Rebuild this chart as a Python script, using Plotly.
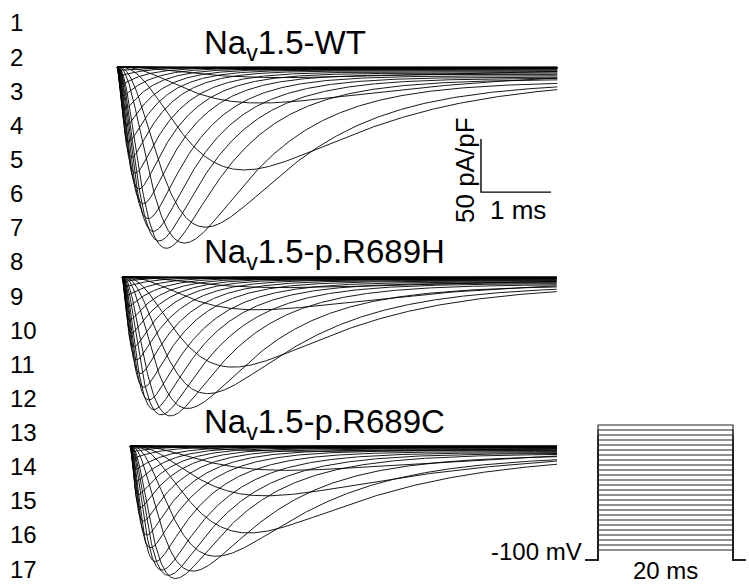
import numpy as np
import plotly.graph_objects as go

# ---------------- data ----------------
voltages_mV = [-90, -85, -80, -75, -70, -65, -60, -55, -50, -45, -40, -35, -30,
               -25, -20, -15, -10, -5, 0, 5, 10, 15, 20, 25, 30, 35]

# peak current density (pA/pF, magnitude), time to peak (ms), inactivation tau (ms)
wt_amp = [0.5, 0.8, 1, 1.5, 2, 3, 10, 34, 97, 151, 166, 171, 164,
          155, 143, 129, 115, 100, 85, 70, 55, 40, 27, 16, 8, 3]
wt_tpeak = [3.0, 3.0, 3.0, 2.8, 2.7, 2.6, 2.3, 2.0, 1.76, 1.23, 0.94, 0.69, 0.59,
            0.51, 0.44, 0.37, 0.31, 0.26, 0.21, 0.17, 0.14, 0.11, 0.09, 0.07, 0.06, 0.05]
wt_tauh = [3.0, 3.0, 3.0, 3.0, 3.0, 3.0, 3.0, 2.4, 1.7, 1.35, 1.1, 0.95, 0.85,
           0.77, 0.7, 0.64, 0.59, 0.55, 0.5, 0.47, 0.44, 0.42, 0.4, 0.38, 0.36, 0.35]
wt_late = 0.025   # persistent fraction of peak

h_amp = [0.5, 0.8, 1, 1.5, 2, 3, 10, 31, 85, 110, 124, 131, 130,
         125, 116, 104, 91, 78, 66, 53, 41, 28, 17, 9, 4, 2]
h_tpeak = [3.0, 3.0, 3.0, 2.8, 2.7, 2.6, 2.3, 1.9, 1.55, 1.2, 0.92, 0.68, 0.55,
           0.45, 0.38, 0.31, 0.26, 0.21, 0.17, 0.14, 0.11, 0.09, 0.075, 0.06, 0.05, 0.045]
h_tauh = [3.0, 3.0, 3.0, 3.0, 3.0, 3.0, 3.0, 2.3, 1.6, 1.35, 1.1, 0.95, 0.85,
          0.77, 0.7, 0.64, 0.59, 0.55, 0.5, 0.47, 0.44, 0.42, 0.4, 0.38, 0.36, 0.35]
h_late = 0.02

c_amp = [0.5, 0.8, 1, 1.5, 2, 5, 23, 47, 82, 104, 118, 125, 122,
         117, 109, 96, 84, 71, 58, 46, 33, 22, 11, 5, 2, 1]
c_tpeak = [3.0, 3.0, 3.0, 2.8, 2.7, 2.6, 2.2, 1.9, 1.65, 1.2, 0.88, 0.64, 0.54,
           0.45, 0.36, 0.29, 0.24, 0.19, 0.15, 0.12, 0.1, 0.08, 0.065, 0.055, 0.05, 0.045]
c_tauh = [3.0, 3.0, 3.0, 3.0, 3.0, 3.0, 3.0, 2.4, 1.75, 1.4, 1.15, 1.0, 0.9,
          0.8, 0.72, 0.66, 0.6, 0.56, 0.52, 0.48, 0.45, 0.43, 0.41, 0.39, 0.37, 0.36]
c_late = 0.025

panel_titles = ["Na<sub>v</sub>1.5-WT", "Na<sub>v</sub>1.5-p.R689H", "Na<sub>v</sub>1.5-p.R689C"]
sweep_ms = [6.29, 6.21, 6.10]

# scale bars
scale_y_pApF = 50
scale_x_ms = 1
protocol_hold_mV = -100
protocol_step_ms = 20

row_labels = [str(i) for i in range(1, 18)]

# ---------------- geometry ----------------
W, H = 749, 585
PX_MS = 70.0      # px per ms (trace panels)
PX_UNIT = 1.06    # px per pA/pF
panels_px = [(117, 67), (122, 277), (130, 446)]   # (t=0 px, baseline px)
FONT = "Liberation Sans, Arial, Helvetica, sans-serif"


def solve_taum(tp, th):
    lo, hi = 1e-5, 100.0
    for _ in range(100):
        mid = 0.5 * (lo + hi)
        g = mid * np.log(1 + 3 * th / mid)
        if g < tp:
            lo = mid
        else:
            hi = mid
    return 0.5 * (lo + hi)


def current(t, amp, tp, th, late):
    tm = solve_taum(tp, th)
    f = (1 - np.exp(-t / tm)) ** 3 * ((1 - late) * np.exp(-t / th) + late)
    fp = (1 - np.exp(-tp / tm)) ** 3 * ((1 - late) * np.exp(-tp / th) + late)
    return -amp * f / fp


fig = go.Figure()
datasets = [(wt_amp, wt_tpeak, wt_tauh, wt_late),
            (h_amp, h_tpeak, h_tauh, h_late),
            (c_amp, c_tpeak, c_tauh, c_late)]
axis_ids = ["", "2", "3"]
for k, (amps, tps, ths, late) in enumerate(datasets):
    t = np.linspace(0, sweep_ms[k], 500)
    for a, tp, th in zip(amps, tps, ths):
        fig.add_trace(go.Scatter(
            x=t, y=current(t, a, tp, th, late), mode="lines",
            line=dict(color="black", width=0.9),
            xaxis="x" + axis_ids[k], yaxis="y" + axis_ids[k],
            hoverinfo="skip", showlegend=False))

# scale bar in WT panel
sb_t = 5.2
sb_y = -118
fig.add_trace(go.Scatter(
    x=[sb_t, sb_t, sb_t + scale_x_ms], y=[sb_y + scale_y_pApF, sb_y, sb_y],
    mode="lines", line=dict(color="black", width=1.4),
    hoverinfo="skip", showlegend=False))

# voltage protocol
for v in voltages_mV:
    fig.add_trace(go.Scatter(
        x=[-1.9, 0, 0, protocol_step_ms, protocol_step_ms, protocol_step_ms + 1.8],
        y=[protocol_hold_mV, protocol_hold_mV, v, v, protocol_hold_mV, protocol_hold_mV],
        mode="lines", line=dict(color="#222222", width=1.1),
        xaxis="x4", yaxis="y4", hoverinfo="skip", showlegend=False))

layout = dict(width=W, height=H, margin=dict(l=0, r=0, t=0, b=0),
              paper_bgcolor="white", plot_bgcolor="white", showlegend=False)

for k, (t0, base) in enumerate(panels_px):
    xr = [-t0 / PX_MS, (W - t0) / PX_MS]
    yr = [-(H - base) / PX_UNIT, base / PX_UNIT]
    xa = dict(domain=[0, 1], range=xr, visible=False, fixedrange=True)
    ya = dict(domain=[0, 1], range=yr, visible=False, fixedrange=True)
    if k == 0:
        xa["anchor"] = "y"
        ya["anchor"] = "x"
        layout["xaxis"] = xa
        layout["yaxis"] = ya
    else:
        xa.update(anchor="y" + axis_ids[k], overlaying="x")
        ya.update(anchor="x" + axis_ids[k], overlaying="y")
        layout["xaxis" + axis_ids[k]] = xa
        layout["yaxis" + axis_ids[k]] = ya

# protocol axes: 6.75 px per ms, 1 px per mV
P_X0, P_PXMS, P_Y100 = 598, 6.75, 560
layout["xaxis4"] = dict(domain=[0, 1], range=[-P_X0 / P_PXMS, (W - P_X0) / P_PXMS],
                        visible=False, anchor="y4", overlaying="x")
layout["yaxis4"] = dict(domain=[0, 1], range=[-100 - (H - P_Y100), -100 + P_Y100],
                        visible=False, anchor="x4", overlaying="y")

fig.update_layout(**layout)

ann = []
title_pos = [(202, 45), (202, 254), (202, 424)]
for txt, (x, y) in zip(panel_titles, title_pos):
    ann.append(dict(text=txt, x=x / W, y=1 - y / H, xref="paper", yref="paper",
                    xanchor="left", yanchor="middle", showarrow=False,
                    font=dict(family=FONT, size=33, color="black")))

ann.append(dict(text=f"{scale_y_pApF} pA/pF", x=465 / W, y=1 - 170 / H, xref="paper", yref="paper",
                textangle=-90, showarrow=False, xanchor="center", yanchor="middle",
                font=dict(family=FONT, size=26, color="black")))
ann.append(dict(text=f"{scale_x_ms} ms", x=518 / W, y=1 - 210 / H, xref="paper", yref="paper",
                showarrow=False, xanchor="center", yanchor="middle",
                font=dict(family=FONT, size=26, color="black")))
ann.append(dict(text=f"{protocol_hold_mV} mV", x=584 / W, y=1 - 551 / H, xref="paper", yref="paper",
                showarrow=False, xanchor="right", yanchor="middle",
                font=dict(family=FONT, size=24, color="black")))
ann.append(dict(text=f"{protocol_step_ms} ms", x=665 / W, y=1 - 570 / H, xref="paper", yref="paper",
                showarrow=False, xanchor="center", yanchor="middle",
                font=dict(family=FONT, size=24, color="black")))

for i, lab in enumerate(row_labels):
    y = 23 + 34.125 * i
    ann.append(dict(text=lab, x=8 / W, y=1 - y / H, xref="paper", yref="paper",
                    showarrow=False, xanchor="left", yanchor="middle",
                    font=dict(family=FONT, size=24, color="black")))

fig.update_layout(annotations=ann)
fig.write_html("out.html")
